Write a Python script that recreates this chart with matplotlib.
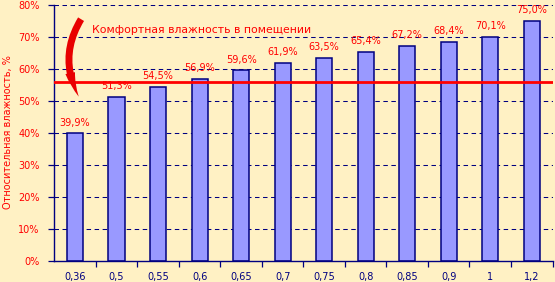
import matplotlib
matplotlib.use("Agg")
import matplotlib.pyplot as plt
from matplotlib.patches import FancyArrowPatch
from matplotlib.ticker import FixedLocator, FuncFormatter

categories = ["0,36", "0,5", "0,55", "0,6", "0,65", "0,7", "0,75", "0,8", "0,85", "0,9", "1", "1,2"]
values = [39.9, 51.3, 54.5, 56.9, 59.6, 61.9, 63.5, 65.4, 67.2, 68.4, 70.1, 75.0]
value_labels = ["39,9%", "51,3%", "54,5%", "56,9%", "59,6%", "61,9%", "63,5%", "65,4%", "67,2%", "68,4%", "70,1%", "75,0%"]
comfort_level = 56.0
comfort_text = "Комфортная влажность в помещении"
y_label = "Относительная влажность, %"

BG = "#FFF1C4"
NAVY = "#000080"
RED = "#FF0000"

plt.rcParams['font.family'] = ['DejaVu Sans']

fig = plt.figure(figsize=(5.55, 2.82), dpi=100)
fig.patch.set_facecolor(BG)
ax = fig.add_axes([54.3/555, 21/282, (552.5-54.3)/555, 256/282])
ax.set_facecolor(BG)

x = list(range(len(categories)))
ax.set_xlim(-0.5, len(categories) - 0.5)
ax.set_ylim(0, 80)

for yv in range(10, 81, 10):
    ax.axhline(yv, color=NAVY, lw=0.75, linestyle=(0, (4.3, 3.4)), zorder=1)

ax.bar(x, values, width=0.39, color="#9999FF", edgecolor=NAVY, linewidth=1.1, zorder=2)

for xi, v, lab in zip(x, values, value_labels):
    ax.text(xi, v + 1.8, lab, ha="center", va="bottom", color=RED, fontsize=7)

ax.axhline(comfort_level, color=RED, lw=2.0, zorder=3)

ax.text(0.42, 72.2, comfort_text, ha="left", va="center", color=RED, fontsize=7.8)

arrow = FancyArrowPatch(posA=(0.18, 76.3), posB=(0.12, 50.6),
                        connectionstyle="arc3,rad=0.3",
                        arrowstyle="simple,head_width=7,head_length=18,tail_width=5",
                        color="#E80000", lw=0, zorder=4)
ax.add_patch(arrow)

ax.set_yticks(range(0, 81, 10))
ax.yaxis.set_major_formatter(FuncFormatter(lambda v, p: f"{int(v)}%"))
ax.tick_params(axis="y", colors=NAVY, labelcolor=RED, labelsize=7, length=4, width=0.9, direction="out", pad=6.5)

ax.set_xticks(x)
ax.set_xticklabels(categories)
ax.xaxis.set_minor_locator(FixedLocator([i + 0.5 for i in x]))
ax.tick_params(axis="x", which="major", length=0, labelcolor=NAVY, labelsize=7, pad=8)
ax.tick_params(axis="x", which="minor", length=4, width=0.9, color=NAVY, direction="out")

for s in ["top", "right"]:
    ax.spines[s].set_visible(False)
for s in ["left", "bottom"]:
    ax.spines[s].set_color(NAVY)
    ax.spines[s].set_linewidth(1.0)

fig.text(8/555, 0.53, y_label, rotation=90, ha="center", va="center", color=RED, fontsize=7)

fig.savefig("out.png", dpi=100, facecolor=BG)
